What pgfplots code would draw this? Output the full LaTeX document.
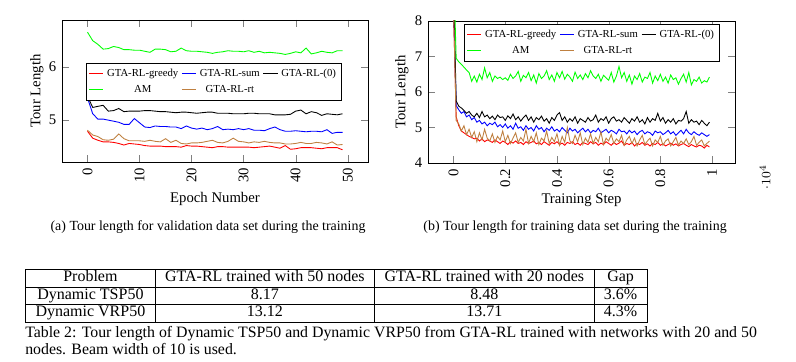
\documentclass[border=0pt]{standalone}
\usepackage{fontspec}
\setmainfont{Liberation Serif}
\usepackage{pgfplots}
\usepackage{pgfplotstable}
\pgfplotsset{compat=1.18}

\pgfplotstableread{
ep greedy sum zero am rt
0 4.79 5.42 5.45 6.66 4.81
1 4.66 5.12 5.24 6.50 4.72
2 4.62 5.02 5.26 6.43 4.69
3 4.59 5.02 5.28 6.34 4.63
4 4.59 5.00 5.17 6.35 4.62
5 4.58 4.98 5.18 6.39 4.64
6 4.56 4.96 5.22 6.37 4.74
7 4.53 4.92 5.16 6.33 4.65
8 4.56 4.92 5.17 6.33 4.61
9 4.55 5.03 5.17 6.32 4.61
10 4.54 4.95 5.17 6.32 4.61
11 4.52 4.87 5.18 6.30 4.60
12 4.51 4.86 5.18 6.28 4.62
13 4.51 4.89 5.17 6.34 4.60
14 4.51 4.88 5.16 6.34 4.59
15 4.50 4.88 5.16 6.33 4.65
16 4.50 4.87 5.15 6.29 4.58
17 4.50 4.87 5.14 6.30 4.62
18 4.49 4.84 5.15 6.36 4.56
19 4.52 4.89 5.15 6.31 4.55
20 4.51 4.85 5.14 6.30 4.57
21 4.51 4.83 5.13 6.30 4.57
22 4.50 4.85 5.14 6.29 4.58
23 4.49 4.82 5.15 6.28 4.60
24 4.48 4.84 5.15 6.26 4.62
25 4.50 4.88 5.13 6.28 4.58
26 4.50 4.82 5.13 6.29 4.57
27 4.49 4.83 5.13 6.31 4.60
28 4.49 4.82 5.12 6.30 4.66
29 4.49 4.84 5.12 6.30 4.60
30 4.49 4.82 5.12 6.29 4.59
31 4.49 4.84 5.13 6.31 4.57
32 4.48 4.81 5.13 6.28 4.59
33 4.49 4.81 5.12 6.30 4.58
34 4.50 4.80 5.12 6.27 4.60
35 4.51 4.84 5.12 6.28 4.58
36 4.49 4.87 5.10 6.27 4.57
37 4.47 4.82 5.10 6.26 4.57
38 4.52 4.79 5.10 6.24 4.55
39 4.45 4.79 5.11 6.26 4.55
40 4.46 4.80 5.17 6.29 4.56
41 4.48 4.79 5.19 6.27 4.58
42 4.48 4.78 5.12 6.36 4.56
43 4.48 4.79 5.16 6.25 4.56
44 4.47 4.79 5.14 6.27 4.58
45 4.46 4.78 5.09 6.30 4.57
46 4.48 4.82 5.12 6.28 4.55
47 4.48 4.75 5.11 6.27 4.59
48 4.48 4.77 5.10 6.31 4.53
49 4.44 4.77 5.12 6.31 4.54
}\valdata

\pgfplotstableread{
s am zero sum greedy rt
0 9.50 9.00 8.50 8.20 8.30
100 6.95 5.75 5.62 5.30 5.20
200 6.85 5.60 5.50 5.05 5.10
300 6.78 5.55 5.40 4.90 4.90
400 6.70 5.48 5.45 4.85 5.05
500 6.62 5.40 5.30 4.80 4.80
600 6.55 5.45 5.35 4.75 4.95
700 6.30 5.35 5.22 4.72 4.72
800 6.45 5.30 5.28 4.68 4.88
900 6.28 5.40 5.15 4.70 4.60
1000 6.50 5.28 5.20 4.62 4.85
1100 6.35 5.45 5.10 4.68 4.65
1200 6.68 5.30 5.15 4.60 4.95
1300 6.40 5.35 5.05 4.65 4.70
1400 6.55 5.25 5.12 4.62 4.62
1500 6.30 5.32 5.08 4.58 4.82
1600 6.45 5.22 5.15 4.65 4.58
1700 6.38 5.35 5.02 4.60 4.75
1800 6.42 5.28 5.08 4.55 4.65
1900 6.35 5.30 5.00 4.62 4.90
2000 6.40 5.20 5.10 4.58 4.60
2100 6.33 5.33 4.98 4.52 4.78
2200 6.50 5.25 5.05 4.60 4.55
2300 6.38 5.38 4.95 4.56 4.70
2400 6.45 5.22 5.12 4.62 4.85
2500 6.58 5.30 4.98 4.55 4.58
2600 6.30 5.18 5.02 4.58 4.72
2700 6.47 5.28 4.92 4.52 4.62
2800 6.40 5.35 5.05 4.60 4.95
2900 6.55 5.20 4.95 4.55 4.55
3000 6.32 5.30 5.00 4.58 4.75
3100 6.48 5.15 4.90 4.62 4.60
3200 6.25 5.28 5.05 4.54 4.85
3300 6.52 5.22 4.95 4.58 4.52
3400 6.38 5.32 5.00 4.52 4.70
3500 6.45 5.18 4.88 4.60 4.62
3600 6.60 5.25 4.98 4.55 4.90
3700 6.35 5.12 4.92 4.50 4.55
3800 6.48 5.28 5.02 4.58 4.72
3900 6.30 5.20 4.90 4.54 4.60
4000 6.55 5.35 4.95 4.60 4.82
4100 6.40 5.42 4.88 4.52 4.50
4200 6.58 5.20 5.00 4.56 4.75
4300 6.36 5.30 4.92 4.50 4.58
4400 6.50 5.15 4.85 4.58 5.00
4500 6.42 5.25 4.98 4.55 4.62
4600 6.30 5.18 4.90 4.60 4.55
4700 6.56 5.30 4.95 4.52 4.78
4800 6.38 5.12 4.85 4.56 4.60
4900 6.48 5.25 4.92 4.50 4.85
5000 6.35 5.20 4.98 4.58 4.52
5100 6.52 5.15 4.88 4.55 4.70
5200 6.40 5.28 4.95 4.52 4.58
5300 6.60 5.18 4.85 4.60 4.82
5400 6.45 5.22 4.92 4.54 4.55
5500 6.38 5.35 4.88 4.58 4.72
5600 6.50 5.15 4.98 4.50 4.60
5700 6.30 5.25 4.85 4.56 4.88
5800 6.47 5.20 4.90 4.52 4.52
5900 6.40 5.30 4.95 4.60 4.70
6000 6.33 5.12 4.85 4.55 4.62
6100 6.55 5.25 4.92 4.50 4.80
6200 6.28 5.30 4.88 4.58 4.55
6300 6.45 5.18 4.82 4.52 4.68
6400 6.72 5.22 4.95 4.56 4.60
6500 6.40 5.15 4.88 4.62 4.78
6600 6.55 5.28 4.90 4.50 4.50
6700 6.30 5.20 4.82 4.55 4.65
6800 6.48 5.12 4.92 4.52 4.75
6900 6.22 5.25 4.85 4.58 4.55
7000 6.45 5.18 4.90 4.48 4.70
7100 6.35 5.30 4.80 4.55 4.48
7200 6.52 5.15 4.88 4.52 4.65
7300 6.28 5.22 4.92 4.58 4.78
7400 6.42 5.10 4.82 4.50 4.52
7500 6.38 5.28 4.88 4.54 4.62
7600 6.55 5.15 4.85 4.48 4.70
7700 6.25 5.25 4.78 4.55 4.48
7800 6.45 5.20 4.90 4.52 4.65
7900 6.32 5.40 4.85 4.58 4.58
8000 6.50 5.18 4.88 4.50 4.75
8100 6.30 5.28 4.80 4.54 4.50
8200 6.42 5.12 4.85 4.48 4.62
8300 6.25 5.22 4.92 4.52 4.68
8400 6.48 5.15 4.82 4.56 4.48
8500 6.35 5.25 4.88 4.50 4.60
8600 6.40 5.10 4.78 4.54 4.72
8700 6.22 5.20 4.85 4.48 4.50
8800 6.38 5.18 4.92 4.52 4.62
8900 6.50 5.25 4.82 4.55 4.55
9000 6.28 5.45 4.95 4.50 4.68
9100 6.55 5.12 4.85 4.46 4.52
9200 6.20 5.22 4.80 4.52 4.60
9300 6.35 5.15 4.88 4.48 4.75
9400 6.30 5.18 4.82 4.45 4.50
9500 6.42 5.08 4.78 4.50 4.58
9600 6.25 5.20 4.85 4.48 4.65
9700 6.32 5.12 4.80 4.42 4.48
9800 6.28 5.05 4.75 4.50 4.55
9900 6.42 5.15 4.80 4.45 4.62
}\traindata

\pgfplotsset{
  myaxis/.style={
    scale only axis,
    anchor=south west,
    clip mode=individual,
    /pgf/number format/assume math mode=true,
    tick label style={font=\fontsize{9.2}{10}\selectfont},
    label style={font=\fontsize{9.2}{11}\selectfont},
    xticklabel style={rotate=90, anchor=east},
    ylabel={Tour Length},
    legend columns=3,
    legend style={draw=black, fill=white, anchor=north west,
      font=\fontsize{6.7}{8}\selectfont,
      inner sep=1.5pt, row sep=0pt,
      /tikz/every even column/.append style={column sep=0pt}},
    every axis plot/.append style={line width=0.55pt},
  },
  legimg/.style={legend image code/.code={\draw[#1, line width=0.55pt] (0pt,0pt) -- (9pt,0pt);}},
}

\begin{document}
\begin{tikzpicture}
\path (0pt,0pt) rectangle (497.5pt,-226.25pt);

\begin{axis}[myaxis,
  at={(38.75pt,-101.25pt)}, width=191.25pt, height=88.75pt,
  xmin=-4.9, xmax=53.9, ymin=4.21, ymax=6.89,
  xtick={0,10,20,30,40,50}, ytick={5,6},
  xlabel={Epoch Number},
  xlabel style={at={(axis description cs:0.5,-0.262)}, anchor=center},
  ylabel style={at={(axis description cs:-0.082,0.5)}, anchor=center},
  legend style={at={(0.078,0.697)}},
]
\addplot[red, legimg=red] table[x=ep, y=greedy] {\valdata};
\addlegendentry{GTA-RL-greedy}
\addplot[blue, legimg=blue] table[x=ep, y=sum] {\valdata};
\addlegendentry{GTA-RL-sum}
\addplot[black, legimg=black] table[x=ep, y=zero] {\valdata};
\addlegendentry{GTA-RL-(0)}
\addplot[green, legimg=green] table[x=ep, y=am] {\valdata};
\addlegendentry{AM}
\addplot[brown, legimg=brown] table[x=ep, y=rt] {\valdata};
\addlegendentry{GTA-RL-rt}
\node[inner sep=0pt] at (axis description cs:0,0) {};
\end{axis}

\begin{axis}[myaxis,
  at={(267.5pt,-101.875pt)}, width=191.9pt, height=88.75pt,
  xmin=-990, xmax=10890, ymin=4, ymax=8,
  scaled x ticks=false,
  xtick={0,2000,4000,6000,8000,10000},
  xticklabels={0,0.2,0.4,0.6,0.8,1},
  ytick={4,5,6,7,8},
  xlabel={Training Step},
  xlabel style={at={(axis description cs:0.5,-0.262)}, anchor=center},
  ylabel style={at={(axis description cs:-0.085,0.5)}, anchor=center},
  legend style={at={(0.117,0.979)}},
]
\addplot[red, legimg=red] table[x=s, y=greedy] {\traindata};
\addlegendentry{GTA-RL-greedy}
\addplot[blue, legimg=blue] table[x=s, y=sum] {\traindata};
\addlegendentry{GTA-RL-sum}
\addplot[black, legimg=black] table[x=s, y=zero] {\traindata};
\addlegendentry{GTA-RL-(0)}
\addplot[green, legimg=green] table[x=s, y=am] {\traindata};
\addlegendentry{AM}
\addplot[brown, legimg=brown] table[x=s, y=rt] {\traindata};
\addlegendentry{GTA-RL-rt}
\node[xshift=18.75pt, yshift=-8.75pt, rotate=90, inner sep=0pt, font=\fontsize{8.5}{9}\selectfont]
  at (axis description cs:1,0) {$\cdot 10^{4}$};
\end{axis}

\node[font=\fontsize{8.7}{10}\selectfont, inner sep=0pt] at (130pt,-141.9pt)
  {(a) Tour length for validation data set during the training};
\node[font=\fontsize{8.7}{10}\selectfont, inner sep=0pt] at (359.4pt,-141.9pt)
  {(b) Tour length for training data set during the training};

\node[anchor=north west, inner sep=0pt, font=\fontsize{10}{12}\selectfont] at (15.6pt,-168.1pt)
  {\renewcommand{\arraystretch}{0.88}%
   \begin{tabular}{|c|c|c|c|}\hline
   Problem & GTA-RL trained with 50 nodes & GTA-RL trained with 20 nodes & Gap\\\hline
   Dynamic TSP50 & 8.17 & 8.48 & 3.6\%\\\hline
   Dynamic VRP50 & 13.12 & 13.71 & 4.3\%\\\hline
   \end{tabular}};

\node[anchor=north west, inner sep=0pt, align=left, font=\fontsize{9.9}{10.8}\selectfont] at (15.6pt,-203.75pt)
  {Table 2: Tour length of Dynamic TSP50 and Dynamic VRP50 from GTA-RL trained with networks with 20 and 50\\
   nodes. Beam width of 10 is used.};
\end{tikzpicture}
\end{document}
